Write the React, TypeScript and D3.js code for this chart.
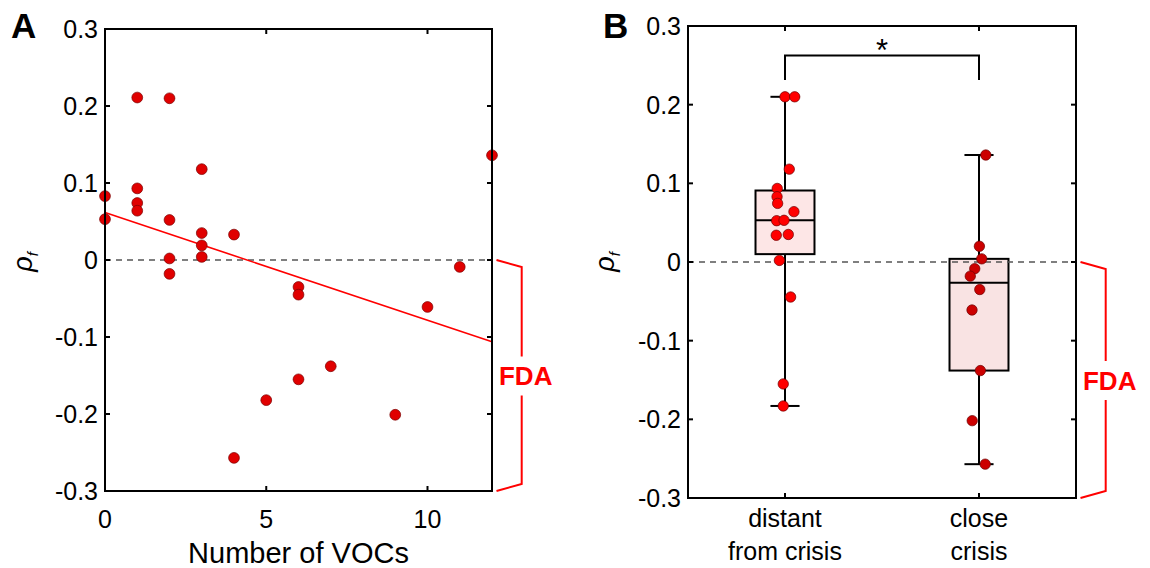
import React from 'react';
import * as d3 from 'd3';

// ---------- data ----------
const vocCounts = [0, 0, 1, 1, 1, 1, 2, 2, 2, 2, 3, 3, 3, 3, 4, 4, 5, 6, 6, 6, 7, 9, 10, 11, 12];
const rhoA = [0.083, 0.053, 0.211, 0.093, 0.074, 0.064, 0.210, 0.052, 0.002, -0.018, 0.118, 0.035, 0.019, 0.004, 0.033, -0.257, -0.182, -0.035, -0.045, -0.155, -0.138, -0.201, -0.061, -0.009, 0.136];

const groupNames = ['distant', 'close'];
const groupLabelLine1 = ['distant', 'close'];
const groupLabelLine2 = ['from crisis', 'crisis'];
const distantRho = [0.210, 0.210, 0.118, 0.0935, 0.083, 0.0745, 0.064, 0.0525, 0.053, 0.034, 0.035, 0.002, -0.0445, -0.155, -0.183];
const distantJitter = [0.0, 0.05, 0.022, -0.04, -0.041, -0.038, 0.046, -0.043, -0.005, -0.045, 0.017, -0.029, 0.029, -0.009, -0.009];
const closeRho = [0.136, 0.020, 0.004, -0.0085, -0.018, -0.035, -0.061, -0.138, -0.2017, -0.257];
const closeJitter = [0.035, 0.002, 0.014, -0.022, -0.045, 0.004, -0.036, 0.007, -0.035, 0.032];

const yTicks = [-0.3, -0.2, -0.1, 0, 0.1, 0.2, 0.3];
const yTickLabels = ['-0.3', '-0.2', '-0.1', '0', '0.1', '0.2', '0.3'];
const xTicksA = [0, 5, 10];
const xTickLabelsA = ['0', '5', '10'];

// ---------- helpers ----------
function prctile(sorted: number[], p: number) {
  const n = sorted.length;
  const pos = p * n + 0.5;
  if (pos <= 1) return sorted[0];
  if (pos >= n) return sorted[n - 1];
  const lo = Math.floor(pos);
  const f = pos - lo;
  return sorted[lo - 1] + f * (sorted[lo] - sorted[lo - 1]);
}

const FONT = '"Liberation Sans", Arial, Helvetica, sans-serif';
const TICK_FS = 25;

function YAxisFrame({ x0, x1, y, tickLen = 5 }: any) {
  return (
    <g>
      {yTicks.map((t, i) => (
        <g key={i}>
          <line x1={x0} x2={x0 + tickLen} y1={y(t)} y2={y(t)} stroke="#000" strokeWidth={2} />
          <line x1={x1} x2={x1 - tickLen} y1={y(t)} y2={y(t)} stroke="#000" strokeWidth={2} />
          <text x={x0 - 7} y={y(t)} dy="0.36em" textAnchor="end" fontSize={TICK_FS} fontFamily={FONT}>
            {yTickLabels[i]}
          </text>
        </g>
      ))}
    </g>
  );
}

function Bracket({ xr, yTop, yBot }: any) {
  const mid = (yTop + yBot) / 2;
  const bx = xr + 29.7;
  const path = `M${xr + 4.5},${yTop} L${bx},${yTop + 7} L${bx},${mid - 19}`;
  const path2 = `M${bx},${mid + 20} L${bx},${yBot - 7} L${xr + 4.5},${yBot}`;
  return (
    <g>
      <path d={path} fill="none" stroke="#ff0000" strokeWidth={2} />
      <path d={path2} fill="none" stroke="#ff0000" strokeWidth={2} />
      <text x={bx + 4} y={mid + 9.5} textAnchor="middle" fontSize={26} fontWeight="bold" fill="#ff0000" fontFamily={FONT}>
        FDA
      </text>
    </g>
  );
}

function RhoLabel({ x, y }: any) {
  return (
    <text transform={`translate(${x},${y}) rotate(-90)`} textAnchor="middle" fontFamily={FONT}>
      <tspan fontSize={27} fontStyle="italic">ρ</tspan>
      <tspan fontSize={15} fontStyle="italic" dy={6}>f</tspan>
    </text>
  );
}

export default function App() {
  // ----- Panel A -----
  const A = { l: 105, r: 492, t: 29, b: 491 };
  const xA = d3.scaleLinear().domain([0, 12]).range([A.l, A.r]);
  const yA = d3.scaleLinear().domain([-0.3, 0.3]).range([A.b, A.t]);

  const mx = d3.mean(vocCounts) as number;
  const my = d3.mean(rhoA) as number;
  let sxy = 0, sxx = 0;
  vocCounts.forEach((v, i) => {
    sxy += (v - mx) * (rhoA[i] - my);
    sxx += (v - mx) * (v - mx);
  });
  const slope = sxy / sxx;
  const intercept = my - slope * mx;
  const fitLine = d3.line<number>().x((d) => xA(d)).y((d) => yA(intercept + slope * d));

  // ----- Panel B -----
  const B = { l: 688, r: 1076, t: 26, b: 498 };
  const xB = d3.scaleLinear().domain([0.5, 2.5]).range([B.l, B.r]);
  const yB = d3.scaleLinear().domain([-0.3, 0.3]).range([B.b, B.t]);
  const groups = [
    { vals: distantRho, jit: distantJitter, fill: '#fde6e6', dot: '#ff0000' },
    { vals: closeRho, jit: closeJitter, fill: '#f9e3e3', dot: '#cc0000' },
  ];
  const stats = groups.map((g) => {
    const s = [...g.vals].sort((a, b) => a - b);
    return {
      q1: prctile(s, 0.25),
      med: prctile(s, 0.5),
      q3: prctile(s, 0.75),
      min: s[0],
      max: s[s.length - 1],
    };
  });
  const boxHalf = 0.152;
  const capHalf = 0.075;
  const sigY = 0.2625;
  const sigLeg = 0.2315;

  return (
    <svg width={1150} height={568} style={{ position: 'absolute', left: 0, top: 0, background: '#fff' }}>
      <rect x={0} y={0} width={1150} height={568} fill="#fff" />
      {/* ===== Panel A ===== */}
      <text x={11} y={38} fontSize={35} fontWeight="bold" fontFamily={FONT}>A</text>
      <line x1={A.l} x2={A.r} y1={yA(0)} y2={yA(0)} stroke="#555" strokeWidth={1.5} strokeDasharray="6,5" />
      <path d={fitLine([0, 12]) as string} fill="none" stroke="#ff0000" strokeWidth={1.6} />
      {vocCounts.map((v, i) => (
        <circle key={i} cx={xA(v)} cy={yA(rhoA[i])} r={5.4} fill="#e00000" stroke="#7a0000" strokeWidth={0.7} />
      ))}
      <YAxisFrame x0={A.l} x1={A.r} y={yA} />
      {xTicksA.map((t, i) => (
        <g key={i}>
          <line x1={xA(t)} x2={xA(t)} y1={A.b} y2={A.b - 5} stroke="#000" strokeWidth={2} />
          <line x1={xA(t)} x2={xA(t)} y1={A.t} y2={A.t + 5} stroke="#000" strokeWidth={2} />
          <text x={xA(t)} y={528} textAnchor="middle" fontSize={TICK_FS} fontFamily={FONT}>{xTickLabelsA[i]}</text>
        </g>
      ))}
      <rect x={A.l} y={A.t} width={A.r - A.l} height={A.b - A.t} fill="none" stroke="#000" strokeWidth={2} />
      <text x={(A.l + A.r) / 2} y={563} textAnchor="middle" fontSize={29} fontFamily={FONT}>Number of VOCs</text>
      <RhoLabel x={32} y={262} />
      <Bracket xr={A.r} yTop={yA(0)} yBot={yA(-0.3)} />

      {/* ===== Panel B ===== */}
      <text x={603} y={38} fontSize={35} fontWeight="bold" fontFamily={FONT}>B</text>
      {/* significance bracket */}
      <path
        d={`M${xB(1)},${yB(sigLeg)} L${xB(1)},${yB(sigY)} L${xB(2)},${yB(sigY)} L${xB(2)},${yB(sigLeg)}`}
        fill="none" stroke="#000" strokeWidth={2}
      />
      <text x={(xB(1) + xB(2)) / 2} y={61} textAnchor="middle" fontSize={31} fontFamily={FONT}>*</text>
      {stats.map((s, i) => {
        const c = i + 1;
        return (
          <g key={groupNames[i]}>
            <line x1={xB(c)} x2={xB(c)} y1={yB(s.max)} y2={yB(s.q3)} stroke="#000" strokeWidth={2} />
            <line x1={xB(c)} x2={xB(c)} y1={yB(s.q1)} y2={yB(s.min)} stroke="#000" strokeWidth={2} />
            <line x1={xB(c - capHalf)} x2={xB(c + capHalf)} y1={yB(s.max)} y2={yB(s.max)} stroke="#000" strokeWidth={2} />
            <line x1={xB(c - capHalf)} x2={xB(c + capHalf)} y1={yB(s.min)} y2={yB(s.min)} stroke="#000" strokeWidth={2} />
            <rect
              x={xB(c - boxHalf)} y={yB(s.q3)} width={xB(c + boxHalf) - xB(c - boxHalf)} height={yB(s.q1) - yB(s.q3)}
              fill={groups[i].fill} stroke="#000" strokeWidth={2}
            />
            <line x1={xB(c - boxHalf)} x2={xB(c + boxHalf)} y1={yB(s.med)} y2={yB(s.med)} stroke="#000" strokeWidth={2} />
          </g>
        );
      })}
      <line x1={B.l} x2={B.r} y1={yB(0)} y2={yB(0)} stroke="#555" strokeWidth={1.5} strokeDasharray="6,5" />
      {groups.map((g, gi) =>
        g.vals.map((v, i) => (
          <circle key={`${gi}-${i}`} cx={xB(gi + 1 + g.jit[i])} cy={yB(v)} r={5.2} fill={g.dot} stroke="#6a0000" strokeWidth={0.7} />
        ))
      )}
      <YAxisFrame x0={B.l} x1={B.r} y={yB} />
      {groupNames.map((n, i) => (
        <g key={n}>
          <line x1={xB(i + 1)} x2={xB(i + 1)} y1={B.b} y2={B.b - 5} stroke="#000" strokeWidth={2} />
          <line x1={xB(i + 1)} x2={xB(i + 1)} y1={B.t} y2={B.t + 5} stroke="#000" strokeWidth={2} />
          <text x={xB(i + 1)} y={527} textAnchor="middle" fontSize={25} fontFamily={FONT}>{groupLabelLine1[i]}</text>
          <text x={xB(i + 1)} y={560} textAnchor="middle" fontSize={25} fontFamily={FONT}>{groupLabelLine2[i]}</text>
        </g>
      ))}
      <rect x={B.l} y={B.t} width={B.r - B.l} height={B.b - B.t} fill="none" stroke="#000" strokeWidth={2} />
      <RhoLabel x={614} y={262} />
      <Bracket xr={B.r} yTop={yB(0)} yBot={yB(-0.3)} />
    </svg>
  );
}
